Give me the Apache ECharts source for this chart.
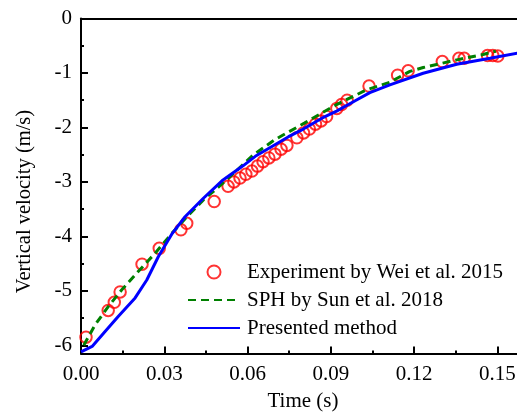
<!DOCTYPE html>
<html>
<head>
<meta charset="utf-8">
<script src="https://cdn.jsdelivr.net/npm/echarts@6/dist/echarts.min.js"></script>
<style>
html,body{margin:0;padding:0;background:#fff;}
#c{width:517px;height:414px;}
</style>
</head>
<body>
<div id="c"></div>
<script>
// Experiment by Wei et al. 2015 [time (s), velocity (m/s)]
var expTime = [0.0018,0.0098,0.0120,0.0141,0.0220,0.0282,0.0360,0.0381,0.0480,
  0.0530,0.0551,0.0573,0.0594,0.0616,0.0636,0.0656,0.0677,0.0699,0.0721,0.0742,
  0.0778,0.0802,0.0823,0.0845,0.0865,0.0885,0.0922,0.0939,0.0959,
  0.1038,0.1141,0.1179,0.1302,0.1362,0.1381,0.1465,0.1484,0.1502];
var expVel = [-5.85,-5.36,-5.21,-5.02,-4.51,-4.22,-3.88,-3.76,-3.36,
  -3.08,-3.00,-2.93,-2.86,-2.80,-2.71,-2.63,-2.56,-2.49,-2.40,-2.33,
  -2.19,-2.10,-2.03,-1.94,-1.88,-1.80,-1.65,-1.58,-1.50,
  -1.24,-1.04,-0.96,-0.79,-0.73,-0.73,-0.68,-0.68,-0.69];

// SPH by Sun et al. 2018
var sphTime = [0.0010,0.0050,0.0098,0.0147,0.0207,0.0267,0.0330,0.0387,0.0441,0.0501,
  0.0561,0.0622,0.0700,0.0805,0.0921,0.1029,0.1113,0.1185,0.1233,0.1354,0.1449,0.1495];
var sphVel = [-6.00,-5.63,-5.29,-4.98,-4.64,-4.31,-3.93,-3.61,-3.33,-3.07,
  -2.79,-2.50,-2.22,-1.92,-1.58,-1.31,-1.17,-0.97,-0.90,-0.76,-0.66,-0.60];

// Presented method
var preTime = [0.0000,0.0020,0.0040,0.0086,0.0134,0.0195,0.0237,0.0279,0.0327,0.0375,
  0.0441,0.0508,0.0585,0.0628,0.0711,0.0748,0.0801,0.0868,0.0921,0.0988,
  0.1041,0.1113,0.1233,0.1354,0.1474,0.1600];
var preVel = [-6.12,-6.07,-6.02,-5.75,-5.47,-5.13,-4.80,-4.37,-3.96,-3.64,
  -3.30,-2.98,-2.70,-2.53,-2.28,-2.17,-2.03,-1.83,-1.70,-1.51,
  -1.36,-1.22,-1.005,-0.84,-0.73,-0.61];

var xTickLabels = ['0.00','0.03','0.06','0.09','0.12','0.15'];
var yTickValues = [-6,-5,-4,-3,-2,-1,0];
var yTickLabels = ['-6','-5','-4','-3','-2','-1','0'];
var yMinorValues = [-5.5,-4.5,-3.5,-2.5,-1.5,-0.5];

function zip(a,b){ return a.map(function(v,i){ return [v,b[i]]; }); }

var FONT = 'Liberation Serif';
var Y_MIN = -6.15;
var noIcon = { color: 'rgba(0,0,0,0)', borderColor: 'rgba(0,0,0,0)', borderWidth: 0 };
var chart = echarts.init(document.getElementById('c'));
chart.setOption({
  animation: false,
  backgroundColor: '#fff',
  textStyle: { fontFamily: FONT, color: '#000' },
  grid: { left: 81, top: 18.5, right: -8, bottom: 60.5, containLabel: false, outerBoundsMode: 'none' },
  xAxis: [{
    type: 'value', min: 0, max: 0.16, interval: 0.03,
    position: 'bottom',
    name: 'Time (s)', nameLocation: 'middle', nameGap: 37,
    nameTextStyle: { fontFamily: FONT, fontSize: 21, color: '#000' },
    axisLine: { onZero: false, lineStyle: { color: '#000', width: 2 } },
    axisTick: { inside: true, length: 7, lineStyle: { color: '#000', width: 2 } },
    minorTick: { show: true, splitNumber: 2, length: 3, lineStyle: { color: '#000', width: 2 } },
    splitLine: { show: false },
    axisLabel: {
      fontFamily: FONT, fontSize: 21, color: '#000', margin: 10, showMaxLabel: false,
      formatter: function (v) {
        var i = Math.round(v / 0.03);
        return Math.abs(v - i * 0.03) < 1e-6 && xTickLabels[i] !== undefined ? xTickLabels[i] : '';
      }
    }
  }, {
    type: 'value', min: 0, max: 0.16, position: 'top',
    axisLine: { onZero: false, lineStyle: { color: '#000', width: 2 } },
    axisTick: { show: false }, axisLabel: { show: false }, splitLine: { show: false }
  }],
  yAxis: [{
    type: 'value', min: Y_MIN, max: 0, position: 'left',
    name: 'Vertical velocity (m/s)', nameLocation: 'middle', nameGap: 46,
    nameTextStyle: { fontFamily: FONT, fontSize: 20.5, color: '#000', padding: [0, 31, 0, 0] },
    axisLine: { onZero: false, lineStyle: { color: '#000', width: 2 } },
    axisTick: { inside: true, length: 7, customValues: yTickValues, lineStyle: { color: '#000', width: 2 } },
    splitLine: { show: false },
    axisLabel: {
      fontFamily: FONT, fontSize: 21, color: '#000', margin: 9,
      customValues: yTickValues,
      formatter: function (v) {
        var i = yTickValues.indexOf(Math.round(v));
        return i >= 0 ? yTickLabels[i] : '';
      }
    }
  }, {
    type: 'value', min: Y_MIN, max: 0, position: 'left', offset: 0,
    axisLine: { show: false },
    axisTick: { inside: true, length: 3, customValues: yMinorValues, lineStyle: { color: '#000', width: 2 } },
    axisLabel: { show: false },
    splitLine: { show: false }
  }],
  legend: {
    left: 187, top: 261.5, orient: 'vertical', padding: 0,
    itemWidth: 52, itemHeight: 13, itemGap: 7,
    textStyle: { fontFamily: FONT, fontSize: 21, color: '#000', padding: [0, 0, 0, 2] },
    data: [
      { name: 'Experiment by Wei et al. 2015' },
      { name: 'SPH by Sun et al. 2018', itemStyle: noIcon },
      { name: 'Presented method', itemStyle: noIcon }
    ]
  },
  series: [{
    name: 'Experiment by Wei et al. 2015', type: 'scatter',
    data: zip(expTime, expVel), symbol: 'circle', symbolSize: 11.5,
    itemStyle: { color: 'rgba(255,255,255,0)', borderColor: '#ff0000', borderWidth: 2 },
    z: 2
  }, {
    name: 'SPH by Sun et al. 2018', type: 'line', data: zip(sphTime, sphVel),
    showSymbol: false, symbol: 'circle',
    lineStyle: { color: '#008000', width: 3, type: [8, 5] }, itemStyle: { color: '#008000' },
    z: 3
  }, {
    name: 'Presented method', type: 'line', data: zip(preTime, preVel),
    showSymbol: false, symbol: 'circle',
    lineStyle: { color: '#0000ff', width: 3 }, itemStyle: { color: '#0000ff' },
    z: 4
  }]
});
</script>
</body>
</html>
